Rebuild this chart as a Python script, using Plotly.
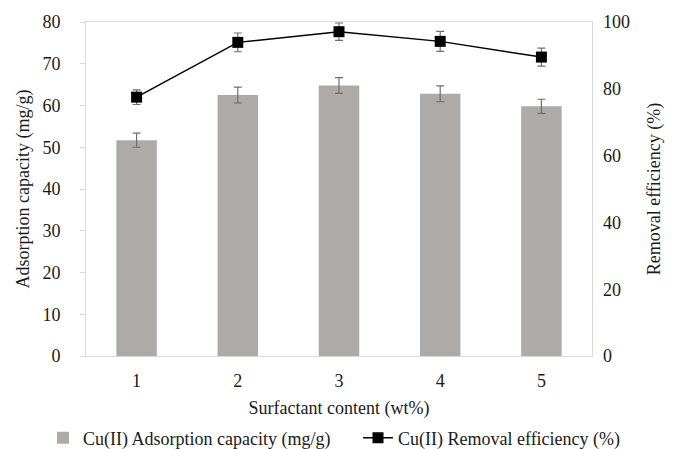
import plotly.graph_objects as go

# Surfactant content levels (wt%)
surfactant = ["1", "2", "3", "4", "5"]

# Cu(II) adsorption capacity (mg/g) and its error
capacity = [51.7, 62.5, 64.8, 62.8, 59.8]
capacity_err = [1.7, 1.9, 1.9, 1.9, 1.7]

# Cu(II) removal efficiency (%) and its error
efficiency = [77.5, 93.9, 97.1, 94.2, 89.5]
efficiency_err = [2.2, 2.8, 2.6, 3.0, 2.7]

FONT = "Liberation Serif"
FS = 18
TEXT = "#1a1a1a"
GRID = "#d9d9d9"

fig = go.Figure()

fig.add_trace(go.Bar(
    x=surfactant, y=capacity,
    name="Cu(II) Adsorption capacity (mg/g)",
    marker=dict(color="#aeaaa8", line=dict(width=0)),
    width=0.4,
    error_y=dict(type="data", array=capacity_err, visible=True,
                 color="#6e6e6e", thickness=1.2, width=4),
    yaxis="y",
    legend="legend",
))

fig.add_trace(go.Scatter(
    x=surfactant, y=efficiency,
    name="Cu(II) Removal efficiency (%)",
    mode="lines+markers",
    line=dict(color="black", width=1.5),
    marker=dict(symbol="square", size=11, color="black"),
    error_y=dict(type="data", array=efficiency_err, visible=True,
                 color="#6e6e6e", thickness=1.2, width=4),
    yaxis="y2",
    legend="legend2",
))

legend_common = dict(
    orientation="h", xref="container", yref="container",
    y=1 - 438 / 449, xanchor="left", yanchor="middle",
    font=dict(family=FONT, size=FS, color=TEXT), bgcolor="rgba(0,0,0,0)",
    itemwidth=30,
)

fig.update_layout(
    width=675, height=449,
    margin=dict(l=86, r=83, t=22, b=93, autoexpand=False),
    paper_bgcolor="white", plot_bgcolor="white",
    font=dict(family=FONT, size=FS, color=TEXT),
    showlegend=True,
    legend=dict(x=43 / 675, **legend_common),
    legend2=dict(x=358 / 675, **legend_common),
    xaxis=dict(
        title=dict(text="Surfactant content (wt%)", font=dict(family=FONT, size=FS), standoff=11),
        automargin=True,
        showline=True, linecolor=GRID, linewidth=1, mirror=True,
        showgrid=False, ticks="", ticklabelstandoff=8,
        tickfont=dict(family=FONT, size=FS),
    ),
    yaxis=dict(
        title=dict(text="Adsorption capacity (mg/g)", font=dict(family=FONT, size=FS), standoff=8),
        automargin=True,
        range=[0, 80], dtick=10,
        showline=True, linecolor=GRID, linewidth=1, mirror=True,
        showgrid=False, zeroline=False,
        ticks="outside", ticklen=5, tickcolor=GRID, ticklabelstandoff=16,
        tickfont=dict(family=FONT, size=FS),
    ),
    yaxis2=dict(
        title=dict(text="Removal efficiency (%)", font=dict(family=FONT, size=FS), standoff=18),
        automargin=True,
        range=[0, 100], dtick=20,
        overlaying="y", side="right",
        showline=False, showgrid=False, zeroline=False,
        ticks="", ticklabelstandoff=10,
        tickfont=dict(family=FONT, size=FS),
    ),
    bargap=0.6,
)

fig.write_html("out.html")
